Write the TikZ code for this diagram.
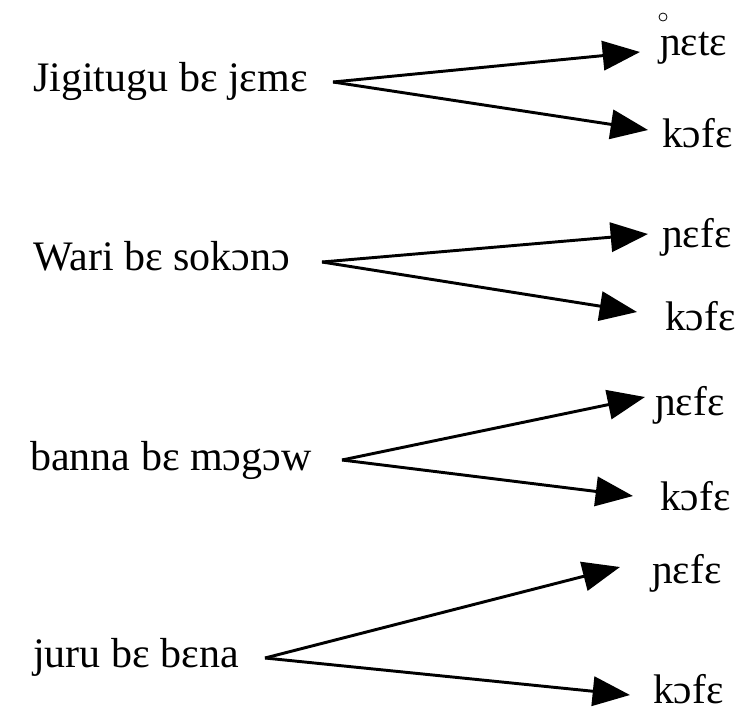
\documentclass[tikz,border=0pt]{standalone}
\usepackage{fontspec}
\setmainfont{Liberation Serif}
\usetikzlibrary{arrows.meta}

\begin{document}
\begin{tikzpicture}[x=0.75pt,y=-0.75pt,
  phrase/.style={anchor=base west,inner sep=0pt,font=\fontsize{31.5}{34}\selectfont},
  side/.style={anchor=base west,inner sep=0pt,font=\fontsize{31}{34}\selectfont},
  branch/.style={line width=2.2pt,-{Triangle[length=28pt,width=22pt]}}]
\useasboundingbox (0,0) rectangle (754,711);

% Sentences
\node[phrase] (s1) at (33,91) {Jigitugu bɛ jɛmɛ};
\node[phrase] (s2) at (33,270) {Wari bɛ sokɔnɔ};
\node[phrase] (s3) at (30,470) {banna bɛ mɔgɔw};
\node[phrase] (s4) at (33,667) {juru bɛ bɛna};

% Directions
\node[side] (f1) at (660,55) {ɲɛtɛ};
\node[side] (k1) at (662,147) {kɔfɛ};
\node[side] (f2) at (662,247) {ɲɛfɛ};
\node[side] (k2) at (665,330) {kɔfɛ};
\node[side] (f3) at (655,415) {ɲɛfɛ};
\node[side] (k3) at (660,510) {kɔfɛ};
\node[side] (f4) at (652,583) {ɲɛfɛ};
\node[side] (k4) at (653,703) {kɔfɛ};

% Branch points and tips
\coordinate (o1) at (333,82);
\coordinate (a1) at (640,52);
\coordinate (b1) at (648,130);
\coordinate (o2) at (322,262);
\coordinate (a2) at (648,234);
\coordinate (b2) at (637,312);
\coordinate (o3) at (342,460);
\coordinate (a3) at (645,397);
\coordinate (b3) at (633,496);
\coordinate (o4) at (265,658);
\coordinate (a4) at (620,567);
\coordinate (b4) at (630,695);

% Arrows
\draw[branch] (o1) -- (a1);
\draw[branch] (o1) -- (b1);
\draw[branch] (o2) -- (a2);
\draw[branch] (o2) -- (b2);
\draw[branch] (o3) -- (a3);
\draw[branch] (o3) -- (b3);
\draw[branch] (o4) -- (a4);
\draw[branch] (o4) -- (b4);

% Small ring
\draw[line width=0.6pt] (663,17) circle (3pt);
\end{tikzpicture}
\end{document}
